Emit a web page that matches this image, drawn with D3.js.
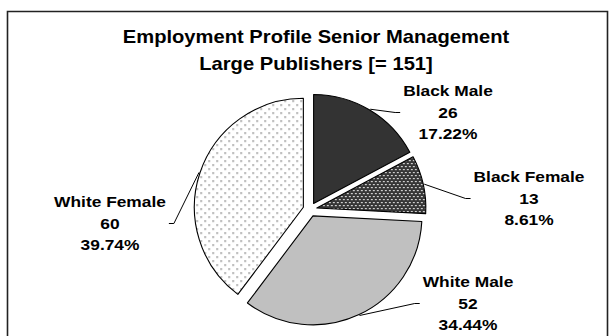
<!DOCTYPE html>
<html>
<head>
<meta charset="utf-8">
<script src="https://cdn.jsdelivr.net/npm/d3@7"></script>
<style>
  html, body { margin: 0; padding: 0; background: #fff; }
  svg { display: block; }
  text { font-family: "Liberation Sans", Arial, sans-serif; font-weight: bold; fill: #000; }
</style>
</head>
<body>
<svg id="chart" width="615" height="336"></svg>
<script>
// Senior management headcount by group, large publishers
const categories = ["Black Male", "Black Female", "White Male", "White Female"];
const counts = [26, 13, 52, 60];
const titleLines = ["Employment Profile Senior Management", "Large Publishers [= 151]"];

// Label anchors (centre x, first baseline y) and which side the leader joins
const labelAnchors = [
  { x: 448, y: 96, side: "left" },
  { x: 529, y: 182, side: "left" },
  { x: 468, y: 287, side: "left" },
  { x: 110, y: 207, side: "right" }
];

const W = 615, H = 336;
const cx = 310, cy = 209.5, radius = 109, explode = 7;
const stretch = 1.12;      // fonts are drawn slightly widened
const lineGap = 21.5;

const svg = d3.select("#chart");
const defs = svg.append("defs");

// Dark checker pattern
const pCheck = defs.append("pattern").attr("id", "checker")
  .attr("patternUnits", "userSpaceOnUse").attr("width", 4).attr("height", 6);
pCheck.append("rect").attr("width", 4).attr("height", 6).attr("fill", "#353535");
pCheck.append("rect").attr("x", 0).attr("y", 0).attr("width", 2).attr("height", 1.2).attr("fill", "#d0d0d0");
pCheck.append("rect").attr("x", 2).attr("y", 3).attr("width", 2).attr("height", 1.2).attr("fill", "#d0d0d0");

// Light dotted pattern
const pDots = defs.append("pattern").attr("id", "dots")
  .attr("patternUnits", "userSpaceOnUse").attr("width", 8).attr("height", 8);
pDots.append("rect").attr("width", 8).attr("height", 8).attr("fill", "#ffffff");
pDots.append("rect").attr("x", 1).attr("y", 1).attr("width", 1.6).attr("height", 1.6).attr("fill", "#8a8a8a");
pDots.append("rect").attr("x", 5).attr("y", 5).attr("width", 1.6).attr("height", 1.6).attr("fill", "#8a8a8a");

const fills = d3.scaleOrdinal()
  .domain(categories)
  .range(["#333333", "url(#checker)", "#c0c0c0", "url(#dots)"]);

// Chart frame
svg.append("path")
  .attr("d", `M7.5,${H + 5} V11.5 H607.5 V${H + 5}`)
  .attr("fill", "none").attr("stroke", "#222").attr("stroke-width", 1.6);

// Title
const title = svg.append("g");
titleLines.forEach((t, i) => {
  title.append("text")
    .attr("transform", `translate(316,${42.5 + i * 27.5}) scale(${stretch},1)`)
    .attr("text-anchor", "middle")
    .attr("font-size", 18)
    .text(t);
});

const total = d3.sum(counts);
const data = categories.map((c, i) => ({ name: c, value: counts[i] }));

const pie = d3.pie().sort(null).value(d => d.value).startAngle(0).endAngle(2 * Math.PI);
const arc = d3.arc().innerRadius(0).outerRadius(radius);
const arcs = pie(data);

const offsetOf = a => {
  const m = (a.startAngle + a.endAngle) / 2;
  return [cx + explode * Math.sin(m), cy - explode * Math.cos(m)];
};

const slices = svg.append("g");
arcs.forEach(a => {
  const [ox, oy] = offsetOf(a);
  slices.append("path")
    .attr("transform", `translate(${ox},${oy})`)
    .attr("d", arc(a))
    .attr("fill", fills(a.data.name))
    .attr("stroke", "#000")
    .attr("stroke-width", 1.1)
    .attr("stroke-linejoin", "round");
});

// Labels and leader lines
const fmtPct = v => (v / total * 100).toFixed(2) + "%";
const labels = svg.append("g");
const leaders = svg.append("g");

arcs.forEach((a, i) => {
  const anc = labelAnchors[i];
  const lines = [a.data.name, String(a.data.value), fmtPct(a.data.value)];
  let maxW = 0;
  lines.forEach((t, k) => {
    const el = labels.append("text")
      .attr("transform", `translate(${anc.x},${anc.y + k * lineGap}) scale(${stretch},1)`)
      .attr("text-anchor", "middle")
      .attr("font-size", 15.5)
      .text(t);
    maxW = Math.max(maxW, el.node().getComputedTextLength() * stretch);
  });

  const m = (a.startAngle + a.endAngle) / 2;
  const [ox, oy] = offsetOf(a);
  const start = [ox + (radius + 1) * Math.sin(m), oy - (radius + 1) * Math.cos(m)];
  const ex = anc.side === "left" ? anc.x - maxW / 2 - 3 : anc.x + maxW / 2 + 3;
  const ey = anc.y + 16.5;
  const elbow = [anc.side === "left" ? ex - 5 : ex + 5, ey];
  leaders.append("path")
    .attr("d", d3.line()([start, elbow, [ex, ey]]))
    .attr("fill", "none")
    .attr("stroke", "#000")
    .attr("stroke-width", 1);
});
</script>
</body>
</html>
